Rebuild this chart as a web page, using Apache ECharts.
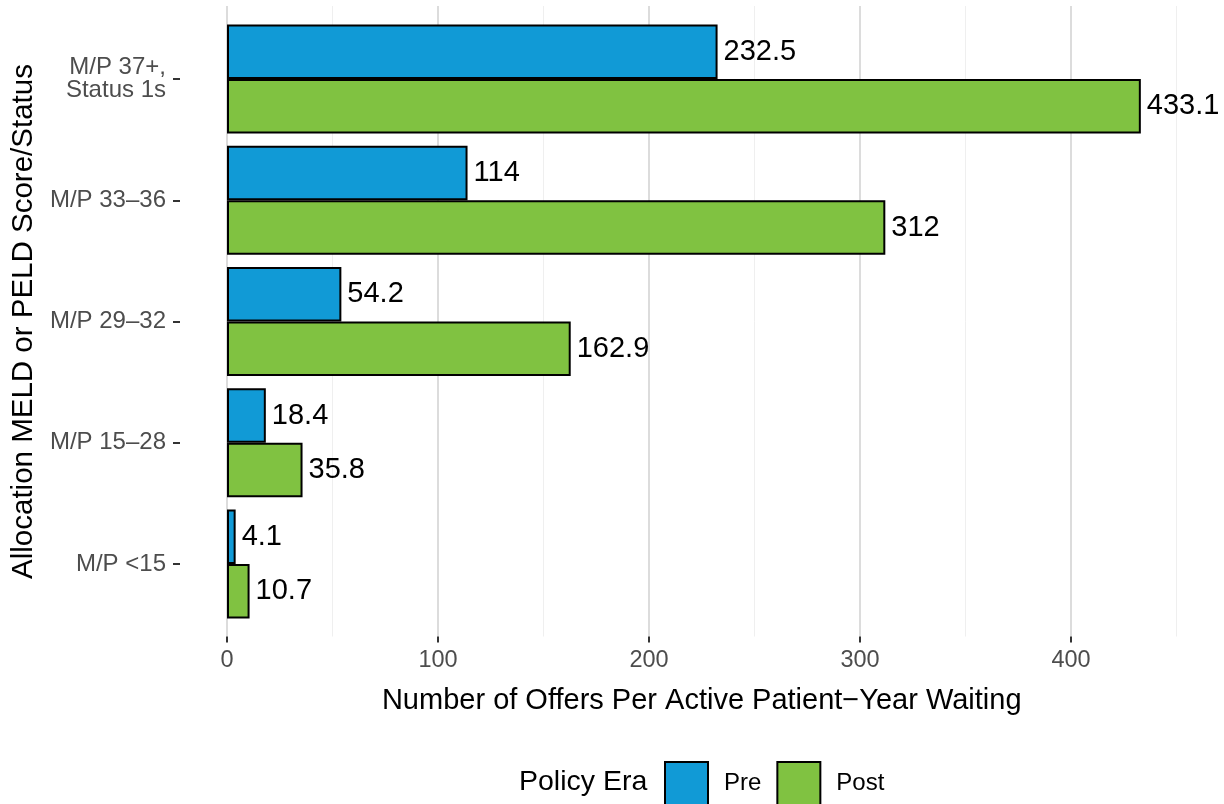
<!DOCTYPE html>
<html>
<head>
<meta charset="utf-8">
<script src="https://cdn.jsdelivr.net/npm/echarts@6/dist/echarts.min.js"></script>
<style>
  html, body { margin: 0; padding: 0; background: #fff; }
  #chart { width: 1224px; height: 804px; }
</style>
</head>
<body>
<div id="chart"></div>
<script>
// score groups, top to bottom
const categories = ['M/P 37+,\nStatus 1s', 'M/P 33–36', 'M/P 29–32', 'M/P 15–28', 'M/P <15']
const preValues = [232.5, 114, 54.2, 18.4, 4.1]
const postValues = [433.1, 312, 162.9, 35.8, 10.7]
const eras = ['Pre', 'Post']

const font = '"Liberation Sans", Arial, Helvetica, sans-serif'
const blue = '#119ad6'
const green = '#80c241'

let chart = echarts.init(document.getElementById('chart'))

chart.setOption({
  animation: false,
  textStyle: { fontFamily: font },
  grid: [
    // gridlines panel (0 .. 450)
    { left: 227, right: 47.5, top: 6, height: 630.5 },
    // bars, panel starts at the y axis ticks
    { left: 180, right: 47.5, top: 18.4, height: 606.25 },
    // labelled ticks 0 .. 400
    { left: 227, width: 844, top: 6, height: 630.5 }
  ],
  xAxis: [
    {
      gridIndex: 0, type: 'value', min: 0, max: 450, interval: 50,
      name: 'Number of Offers Per Active Patient\u2212Year Waiting',
      nameLocation: 'middle', nameGap: 50,
      nameTextStyle: { fontSize: 29, color: '#000', fontFamily: font },
      axisLine: { show: false }, axisTick: { show: false }, axisLabel: { show: false },
      splitLine: { show: true, lineStyle: { color: '#efefef', width: 1 } }
    },
    {
      gridIndex: 0, type: 'value', min: 0, max: 450, interval: 50,
      axisLine: { show: false }, axisTick: { show: false }, axisLabel: { show: false },
      splitLine: { show: true, lineStyle: { color: ['#dcdcdc', 'rgba(0,0,0,0)'], width: 2 } }
    },
    {
      gridIndex: 1, type: 'value', min: -22.275, max: 450, show: false
    },
    {
      gridIndex: 2, type: 'value', min: 0, max: 400, interval: 100,
      axisLine: { show: false },
      axisTick: { show: true, length: 6, lineStyle: { color: '#333', width: 2 } },
      axisLabel: { fontSize: 23.5, color: '#4d4d4d', margin: 12 },
      splitLine: { show: false }
    }
  ],
  yAxis: [
    { gridIndex: 0, type: 'value', show: false },
    {
      gridIndex: 1, type: 'category', data: categories, inverse: true,
      name: 'Allocation MELD or PELD Score/Status',
      nameLocation: 'middle', nameGap: 140,
      nameTextStyle: { fontSize: 29.5, color: '#000', fontFamily: font },
      axisLine: { show: false, onZero: false },
      axisTick: { show: true, alignWithLabel: true, length: 7, lineStyle: { color: '#333', width: 2 } },
      axisLabel: { fontSize: 24, color: '#4d4d4d', margin: 14, lineHeight: 23, align: 'right', padding: [6, 0, 0, 0] },
      splitLine: { show: false }
    },
    { gridIndex: 2, type: 'value', show: false }
  ],
  legend: {
    data: eras,
    orient: 'horizontal',
    left: 664, top: 761, padding: 0,
    itemWidth: 43, itemHeight: 43, itemGap: 15,
    icon: 'rect',
    textStyle: { fontSize: 24, color: '#000', padding: [0, 0, 0, 11], fontFamily: font }
  },
  graphic: [{
    type: 'text', left: 519, top: 768,
    style: { text: 'Policy Era', fontSize: 28.5, fill: '#000', fontFamily: font }
  }],
  series: [
    {
      name: eras[0], type: 'bar', xAxisIndex: 2, yAxisIndex: 1,
      data: preValues, barWidth: 54.5, barGap: '0%',
      itemStyle: { color: blue, borderColor: '#000', borderWidth: 2 },
      label: { show: true, position: 'right', distance: 6, fontSize: 29, color: '#000', fontFamily: font }
    },
    {
      name: eras[1], type: 'bar', xAxisIndex: 2, yAxisIndex: 1,
      data: postValues, barWidth: 54.5, barGap: '0%',
      itemStyle: { color: green, borderColor: '#000', borderWidth: 2 },
      label: { show: true, position: 'right', distance: 6, fontSize: 29, color: '#000', fontFamily: font }
    }
  ]
})
</script>
</body>
</html>
